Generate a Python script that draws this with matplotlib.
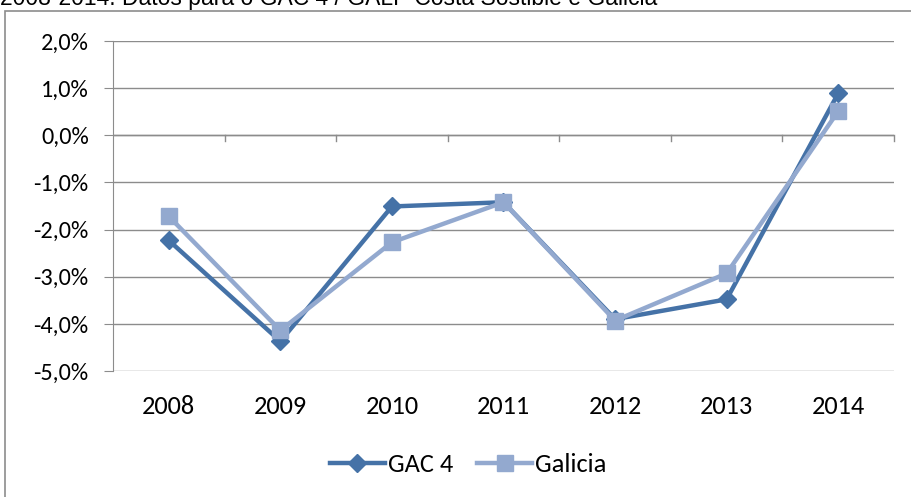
import matplotlib.pyplot as plt
from matplotlib.patches import Rectangle
from matplotlib.ticker import FuncFormatter, MultipleLocator

plt.rcParams['font.family'] = ['Carlito', 'Lato', 'DejaVu Sans']

years = ['2008', '2009', '2010', '2011', '2012', '2013', '2014']
gac4 = [-2.23, -4.37, -1.51, -1.42, -3.90, -3.48, 0.89]
galicia = [-1.72, -4.14, -2.27, -1.42, -3.93, -2.93, 0.51]

W, H = 912, 497
fig = plt.figure(figsize=(W / 100, H / 100), dpi=100)
ax = fig.add_axes([113 / W, 1 - 371 / H, (894 - 113) / W, (371 - 41) / H])

x = range(len(years))
ax.plot(x, gac4, color='#4572A7', lw=3.2, marker='D', ms=9, label='GAC 4', zorder=3)
ax.plot(x, galicia, color='#93A9CF', lw=3.2, marker='s', ms=12, label='Galicia', zorder=4)

ax.set_xlim(-0.5, len(years) - 0.5)
ax.set_ylim(-5, 2)
ax.yaxis.set_major_locator(MultipleLocator(1))
ax.yaxis.set_major_formatter(FuncFormatter(lambda v, p: f'{v:.1f}%'.replace('.', ',')))
ax.grid(axis='y', color='#8c8c8c', lw=1)
ax.set_axisbelow(True)
for s in ['top', 'right', 'bottom']:
    ax.spines[s].set_visible(False)
ax.spines['left'].set_color('#8c8c8c')

# category axis crosses at zero
ax.axhline(0, color='#8c8c8c', lw=1, zorder=1)
ax.set_xticks(x)
ax.set_xticklabels(years)
ax.tick_params(axis='x', length=0, pad=17, labelsize=19)
ax.tick_params(axis='y', length=6.5, color='#8c8c8c', labelsize=17.5, pad=11)
for b in range(1, len(years) + 1):
    ax.plot([b - 0.5, b - 0.5], [0, -0.13], color='#8c8c8c', lw=1, clip_on=False, zorder=1)

fig.legend(loc='center', bbox_to_anchor=(468 / W, 1 - 465 / H), ncol=2, frameon=False,
           fontsize=19, handlelength=2.1, handletextpad=0.1, columnspacing=0.9)

fig.patches.append(Rectangle((5 / W, -0.1), 1.1, 1 - 11 / H + 0.1, transform=fig.transFigure,
                             fill=False, ec='#8c8c8c', lw=1.2))
fig.text(0, 1 - 5 / H, '2008-2014. Datos para o GAC 4 / GALP Costa Sostible e Galicia',
         fontsize=16.5, va='baseline', ha='left', family=['Liberation Sans', 'DejaVu Sans'])

fig.savefig('out.png', dpi=100)
